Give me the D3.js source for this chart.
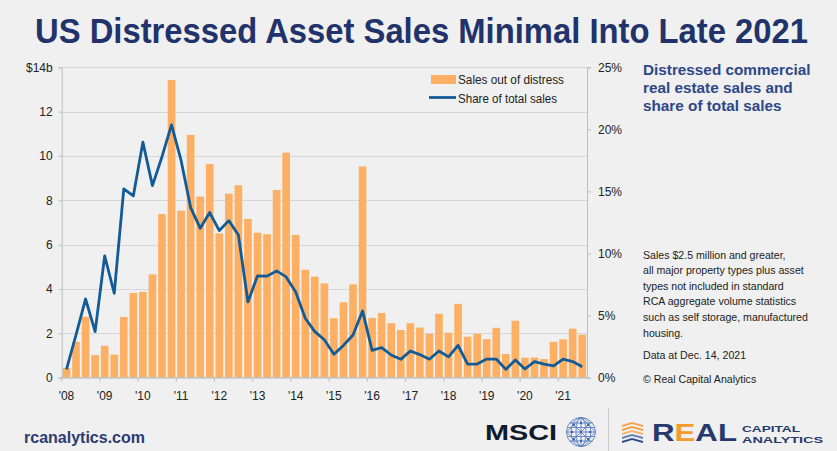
<!DOCTYPE html>
<html><head><meta charset="utf-8">
<script src="https://cdn.jsdelivr.net/npm/d3@7"></script>
<style>
html,body{margin:0;padding:0;background:#eff0ef;}
svg{display:block;}
text{font-family:"Liberation Sans",Arial,Helvetica,sans-serif;}
</style></head>
<body>
<svg id="chart" width="837" height="451"></svg>
<script>
// ---- data ----
const quarters = ["2008Q1","2008Q2","2008Q3","2008Q4","2009Q1","2009Q2","2009Q3","2009Q4",
"2010Q1","2010Q2","2010Q3","2010Q4","2011Q1","2011Q2","2011Q3","2011Q4",
"2012Q1","2012Q2","2012Q3","2012Q4","2013Q1","2013Q2","2013Q3","2013Q4",
"2014Q1","2014Q2","2014Q3","2014Q4","2015Q1","2015Q2","2015Q3","2015Q4",
"2016Q1","2016Q2","2016Q3","2016Q4","2017Q1","2017Q2","2017Q3","2017Q4",
"2018Q1","2018Q2","2018Q3","2018Q4","2019Q1","2019Q2","2019Q3","2019Q4",
"2020Q1","2020Q2","2020Q3","2020Q4","2021Q1","2021Q2","2021Q3"];
const salesOutOfDistress = [0.44,1.62,2.75,1.02,1.44,1.04,2.74,3.82,3.87,4.66,7.38,13.43,7.53,10.95,8.17,9.64,
6.51,8.30,8.68,7.16,6.54,6.47,8.47,10.15,6.44,4.87,4.56,4.25,2.68,3.40,4.21,9.53,
2.70,2.92,2.46,2.15,2.46,2.26,1.98,2.88,2.03,3.33,1.85,1.98,1.74,2.25,1.07,2.57,
0.90,0.91,0.84,1.62,1.73,2.21,1.94];
const shareOfTotalSales = [0.68,3.44,6.34,3.71,9.81,6.80,15.2,14.64,18.97,15.47,17.8,20.36,17.5,13.7,12.04,13.3,
11.85,12.65,11.5,6.1,8.2,8.18,8.6,8.12,6.9,4.79,3.71,3.06,1.89,2.6,3.44,5.38,
2.2,2.43,1.83,1.48,2.15,1.86,1.49,2.15,1.68,2.6,1.1,1.1,1.5,1.5,0.67,1.43,
0.7,1.29,1.09,0.95,1.5,1.3,0.89];
const yearLabels = ["'08","'09","'10","'11","'12","'13","'14","'15","'16","'17","'18","'19","'20","'21"];
const yearFirstQuarter = ["2008Q1","2009Q1","2010Q1","2011Q1","2012Q1","2013Q1","2014Q1","2015Q1","2016Q1","2017Q1","2018Q1","2019Q1","2020Q1","2021Q1"];
const leftTicks = [0,2,4,6,8,10,12,14];
const leftTickLabels = ["0","2","4","6","8","10","12","$14b"];
const rightTicks = [0,5,10,15,20,25];
const legendLabels = ["Sales out of distress","Share of total sales"];
const noteLines = ["Sales $2.5 million and greater,","all major property types plus asset","types not included in standard","RCA aggregate volume statistics","such as self storage, manufactured","housing."];

// ---- layout ----
const svg = d3.select("#chart");
const X0 = 61.7, X1 = 587, Y0 = 377.7, Y1 = 67.3;
const orange = "#fdb063", blue = "#135b96", navy = "#22326a";

const x = d3.scaleBand().domain(quarters).range([X0, X1]).paddingInner(0.2).paddingOuter(0.1);
const yL = d3.scaleLinear().domain([0, 14]).range([Y0, Y1]);
const yR = d3.scaleLinear().domain([0, 25]).range([Y0, Y1]);

// title (condensed look: narrower font size, stretched vertically)
svg.append("text").attr("transform", "translate(35,43) scale(1,1.25)").attr("font-size", 27.5).attr("font-weight", "bold")
  .attr("fill", navy).attr("textLength", 773).attr("lengthAdjust", "spacingAndGlyphs")
  .text("US Distressed Asset Sales Minimal Into Late 2021");

// gridlines
svg.append("g").selectAll("line").data(leftTicks).join("line")
  .attr("x1", X0).attr("x2", X1).attr("y1", d => Math.round(yL(d)) + 0.5).attr("y2", d => Math.round(yL(d)) + 0.5)
  .attr("stroke", "#d6d7d6").attr("stroke-width", 1);

// bars
svg.append("g").selectAll("rect").data(quarters).join("rect")
  .attr("x", d => x(d)).attr("width", x.bandwidth())
  .attr("y", (d, i) => yL(salesOutOfDistress[i]))
  .attr("height", (d, i) => Y0 - yL(salesOutOfDistress[i]))
  .attr("fill", orange);

// axes
const axisColor = "#bdbebd";
const gL = svg.append("g").attr("transform", `translate(${X0},0)`)
  .call(d3.axisLeft(yL).tickValues(leftTicks).tickSize(3).tickFormat((d, i) => leftTickLabels[i]));
gL.select(".domain").attr("stroke", axisColor);
gL.selectAll(".tick line").attr("stroke", axisColor);
gL.selectAll(".tick text").attr("font-size", 12).attr("fill", "#222").attr("x", -9)
  .attr("font-family", "'Liberation Sans',Arial,sans-serif");

const gR = svg.append("g").attr("transform", `translate(${X1},0)`)
  .call(d3.axisRight(yR).tickValues(rightTicks).tickSize(4).tickFormat(d => d + "%"));
gR.select(".domain").attr("stroke", axisColor);
gR.selectAll(".tick line").attr("stroke", axisColor);
gR.selectAll(".tick text").attr("font-size", 12).attr("fill", "#222").attr("x", 11)
  .attr("font-family", "'Liberation Sans',Arial,sans-serif");

// bottom axis: ticks at year boundaries, labels centred on Q1 bar
const step = x.step();
const gB = svg.append("g");
gB.append("line").attr("x1", X0).attr("x2", X1).attr("y1", Y0).attr("y2", Y0).attr("stroke", axisColor);
gB.selectAll("line.tk").data(yearFirstQuarter).join("line").attr("class", "tk")
  .attr("x1", d => x(d) - (step - x.bandwidth()) / 2).attr("x2", d => x(d) - (step - x.bandwidth()) / 2)
  .attr("y1", Y0).attr("y2", Y0 + 4).attr("stroke", axisColor);
gB.selectAll("text").data(yearFirstQuarter).join("text")
  .attr("x", d => x(d) + x.bandwidth() / 2).attr("y", 399.5).attr("text-anchor", "middle")
  .attr("font-size", 12).attr("fill", "#222").text((d, i) => yearLabels[i]);

// line
const line = d3.line().x((d, i) => x(quarters[i]) + x.bandwidth() / 2).y(d => yR(d));
svg.append("path").datum(shareOfTotalSales).attr("d", line)
  .attr("fill", "none").attr("stroke", blue).attr("stroke-width", 2.8).attr("stroke-linejoin", "round");

// legend
const lg = svg.append("g");
lg.append("rect").attr("x", 431).attr("y", 75).attr("width", 25).attr("height", 9).attr("fill", orange);
lg.append("line").attr("x1", 429).attr("x2", 456).attr("y1", 97.5).attr("y2", 97.5).attr("stroke", blue).attr("stroke-width", 2.8);
lg.selectAll("text").data(legendLabels).join("text")
  .attr("x", 458).attr("y", (d, i) => 84 + i * 18.5).attr("font-size", 12).attr("fill", "#222")
  .attr("textLength", (d, i) => i === 0 ? 106 : 99).attr("lengthAdjust", "spacingAndGlyphs").text(d => d);

// side subtitle
const side = ["Distressed commercial", "real estate sales and", "share of total sales"];
svg.append("g").selectAll("text").data(side).join("text")
  .attr("x", 643).attr("y", (d, i) => 75 + i * 18).attr("font-size", 15.3).attr("font-weight", "bold")
  .attr("fill", "#2e4788").text(d => d);

// notes
svg.append("g").selectAll("text").data(noteLines).join("text")
  .attr("x", 643).attr("y", (d, i) => 258.5 + i * 15.6).attr("font-size", 10.6).attr("fill", "#222").text(d => d);
svg.append("text").attr("x", 643).attr("y", 358.5).attr("font-size", 10.6).attr("fill", "#222").text("Data at Dec. 14, 2021");
svg.append("text").attr("x", 643).attr("y", 382.5).attr("font-size", 10.6).attr("fill", "#222").text("\u00A9 Real Capital Analytics");

// footer
svg.append("text").attr("x", 24).attr("y", 443).attr("font-size", 17).attr("font-weight", "bold")
  .attr("fill", "#2c3c72").attr("textLength", 121).attr("lengthAdjust", "spacingAndGlyphs").text("rcanalytics.com");

svg.append("text").attr("x", 485).attr("y", 439.5).attr("font-size", 22.5).attr("font-weight", "bold")
  .attr("fill", "#0f1b2c").attr("textLength", 72).attr("lengthAdjust", "spacingAndGlyphs").text("MSCI");

// globe
const globe = svg.append("g").attr("transform", "translate(581,432)").attr("fill", "none").attr("stroke", "#5b7fc2").attr("stroke-width", 0.9);
globe.append("circle").attr("r", 14.5);
[-9, -4.5, 0, 4.5, 9].forEach(dy => {
  const hw = Math.sqrt(14.5 * 14.5 - dy * dy);
  globe.append("line").attr("x1", -hw).attr("x2", hw).attr("y1", dy).attr("y2", dy);
});
[5, 10].forEach(rx => globe.append("ellipse").attr("rx", rx).attr("ry", 14.5));
globe.append("line").attr("x1", 0).attr("x2", 0).attr("y1", -14.5).attr("y2", 14.5);
globe.append("path").attr("d", "M-10,-10L10,10M10,-10L-10,10M0,-14.5L14.5,0L0,14.5L-14.5,0Z");
[[0,0],[-7,-7],[7,-7],[-7,7],[7,7],[0,-9],[0,9],[-9,0],[9,0]].forEach(p =>
  globe.append("circle").attr("cx", p[0]).attr("cy", p[1]).attr("r", 1.2).attr("fill", "#3d64ae").attr("stroke", "none"));

// separator
svg.append("line").attr("x1", 608.5).attr("x2", 608.5).attr("y1", 408).attr("y2", 451).attr("stroke", "#c9caca");

// Real Capital Analytics logo
const lgo = svg.append("g");
const layers = [[423, "#f5a24b"], [427, "#f0a040"], [431, "#f2b36a"], [435, "#5f7fb8"], [439, "#2f4b86"]];
layers.forEach(l => {
  const y = l[0];
  lgo.append("path").attr("d", `M622,${y + 2}L632,${y - 1}L643,${y + 2}L643,${y + 4}L632,${y + 1}L622,${y + 4}Z`).attr("fill", l[1]);
});
const realT = lgo.append("text").attr("x", 652).attr("y", 440.5).attr("font-size", 24).attr("font-weight", "bold")
  .attr("textLength", 85).attr("lengthAdjust", "spacingAndGlyphs");
realT.append("tspan").attr("fill", "#26386e").text("R");
realT.append("tspan").attr("fill", "#f49b2c").text("E");
realT.append("tspan").attr("fill", "#26386e").text("AL");
lgo.append("text").attr("x", 742).attr("y", 432.4).attr("font-size", 8.8).attr("font-weight", "bold").attr("fill", "#26386e")
  .attr("textLength", 58).attr("lengthAdjust", "spacingAndGlyphs").text("CAPITAL");
lgo.append("text").attr("x", 742).attr("y", 442.6).attr("font-size", 8.8).attr("font-weight", "bold").attr("fill", "#26386e")
  .attr("textLength", 81).attr("lengthAdjust", "spacingAndGlyphs").text("ANALYTICS");
</script>
</body></html>
